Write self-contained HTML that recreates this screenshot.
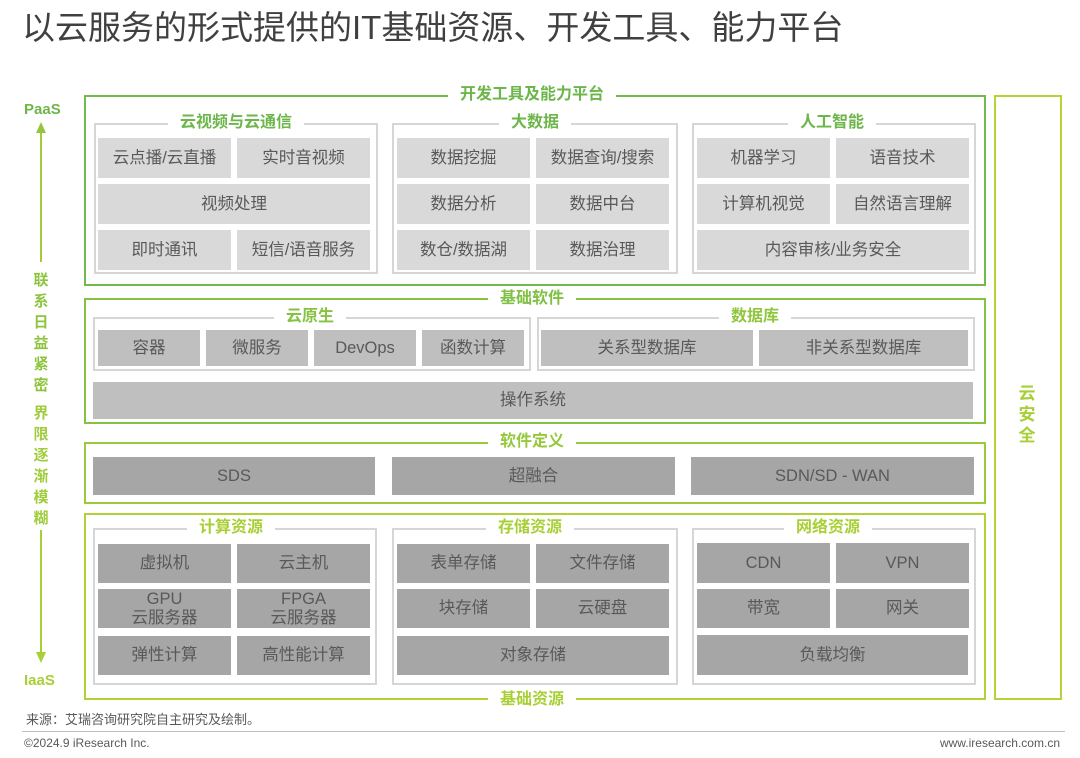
<!DOCTYPE html><html><head><meta charset="utf-8"><style>
*{margin:0;padding:0;box-sizing:border-box}
body{width:1080px;height:758px;background:#fff;position:relative;overflow:hidden;font-family:"Liberation Sans","Noto Sans CJK SC",sans-serif}
div{position:absolute}
.f{border:2px solid #7cc04a}
.s{border:2px solid #d6d6d6}
.b{display:flex;align-items:center;justify-content:center;color:#595959;font-size:16.5px;text-align:center;line-height:19px}
.l{background:#d9d9d9}.m{background:#bfbfbf}.d{background:#a6a6a6}
.t{background:#fff;font-weight:bold;font-size:16px;padding:0 12px;line-height:18px;white-space:nowrap;transform:translateX(-50%)}
.v{font-weight:bold;font-size:15px;line-height:21px;width:20px;text-align:center}
</style></head><body>
<div style="left:22px;top:7px;font-size:33px;color:#404040;line-height:42px;white-space:nowrap">以云服务的形式提供的IT基础资源、开发工具、能力平台</div>

<!-- left axis -->
<div style="left:24px;top:101px;font-weight:bold;color:#6cb64a;font-size:15px">PaaS</div>
<div style="left:40px;top:132px;width:2px;height:130px;background:#a2cc3c"></div>
<div style="left:36px;top:122px;width:0;height:0;border-left:5px solid transparent;border-right:5px solid transparent;border-bottom:11px solid #93c63e"></div>
<div class="v" style="left:31px;top:270px;color:#8cc43e">联<br>系<br>日<br>益<br>紧<br>密</div>
<div class="v" style="left:31px;top:403px;color:#9fcc3a">界<br>限<br>逐<br>渐<br>模<br>糊</div>
<div style="left:40px;top:530px;width:2px;height:124px;background:#a8d036"></div>
<div style="left:36px;top:652px;width:0;height:0;border-left:5px solid transparent;border-right:5px solid transparent;border-top:11px solid #a8d036"></div>
<div style="left:24px;top:672px;font-weight:bold;color:#a8d036;font-size:15px">IaaS</div>

<!-- frame 1 -->
<div class="f" style="left:84px;top:95px;width:902px;height:191px;border-color:#72bb4a"></div>
<div class="t" style="left:532px;top:86px;color:#6cb64a">开发工具及能力平台</div>
<div class="s" style="left:94px;top:123px;width:284px;height:151px"></div>
<div class="t" style="left:236px;top:114px;color:#6cb64a">云视频与云通信</div>
<div class="b l" style="left:98px;top:138px;width:133px;height:40px">云点播/云直播</div>
<div class="b l" style="left:237px;top:138px;width:133px;height:40px">实时音视频</div>
<div class="b l" style="left:98px;top:184px;width:272px;height:40px">视频处理</div>
<div class="b l" style="left:98px;top:230px;width:133px;height:40px">即时通讯</div>
<div class="b l" style="left:237px;top:230px;width:133px;height:40px">短信/语音服务</div>

<div class="s" style="left:392px;top:123px;width:286px;height:151px"></div>
<div class="t" style="left:535px;top:114px;color:#6cb64a">大数据</div>
<div class="b l" style="left:397px;top:138px;width:133px;height:40px">数据挖掘</div>
<div class="b l" style="left:536px;top:138px;width:133px;height:40px">数据查询/搜索</div>
<div class="b l" style="left:397px;top:184px;width:133px;height:40px">数据分析</div>
<div class="b l" style="left:536px;top:184px;width:133px;height:40px">数据中台</div>
<div class="b l" style="left:397px;top:230px;width:133px;height:40px">数仓/数据湖</div>
<div class="b l" style="left:536px;top:230px;width:133px;height:40px">数据治理</div>

<div class="s" style="left:692px;top:123px;width:284px;height:151px"></div>
<div class="t" style="left:832px;top:114px;color:#6cb64a">人工智能</div>
<div class="b l" style="left:697px;top:138px;width:133px;height:40px">机器学习</div>
<div class="b l" style="left:836px;top:138px;width:133px;height:40px">语音技术</div>
<div class="b l" style="left:697px;top:184px;width:133px;height:40px">计算机视觉</div>
<div class="b l" style="left:836px;top:184px;width:133px;height:40px">自然语言理解</div>
<div class="b l" style="left:697px;top:230px;width:272px;height:40px">内容审核/业务安全</div>

<!-- frame 2 -->
<div class="f" style="left:84px;top:298px;width:902px;height:126px;border-color:#86c242"></div>
<div class="t" style="left:532px;top:290px;color:#80c044">基础软件</div>
<div class="s" style="left:93px;top:317px;width:438px;height:54px"></div>
<div class="t" style="left:310px;top:308px;color:#86c242">云原生</div>
<div class="b m" style="left:98px;top:330px;width:102px;height:36px">容器</div>
<div class="b m" style="left:206px;top:330px;width:102px;height:36px">微服务</div>
<div class="b m" style="left:314px;top:330px;width:102px;height:36px">DevOps</div>
<div class="b m" style="left:422px;top:330px;width:102px;height:36px">函数计算</div>
<div class="s" style="left:537px;top:317px;width:438px;height:54px"></div>
<div class="t" style="left:755px;top:308px;color:#90c63e">数据库</div>
<div class="b m" style="left:541px;top:330px;width:212px;height:36px">关系型数据库</div>
<div class="b m" style="left:759px;top:330px;width:209px;height:36px">非关系型数据库</div>
<div class="b m" style="left:93px;top:382px;width:880px;height:37px">操作系统</div>

<!-- frame 3 -->
<div class="f" style="left:84px;top:442px;width:902px;height:62px;border-color:#9ccb3a"></div>
<div class="t" style="left:532px;top:433px;color:#96c83c">软件定义</div>
<div class="b d" style="left:93px;top:457px;width:282px;height:38px">SDS</div>
<div class="b d" style="left:392px;top:457px;width:283px;height:38px">超融合</div>
<div class="b d" style="left:691px;top:457px;width:283px;height:38px">SDN/SD - WAN</div>

<!-- frame 4 -->
<div class="f" style="left:84px;top:513px;width:902px;height:187px;border-color:#b0d236"></div>
<div class="t" style="left:532px;top:691px;color:#a8d036">基础资源</div>
<div class="s" style="left:93px;top:528px;width:284px;height:157px"></div>
<div class="t" style="left:231px;top:519px;color:#a8d036">计算资源</div>
<div class="b d" style="left:98px;top:544px;width:133px;height:39px">虚拟机</div>
<div class="b d" style="left:237px;top:544px;width:133px;height:39px">云主机</div>
<div class="b d" style="left:98px;top:589px;width:133px;height:39px">GPU<br>云服务器</div>
<div class="b d" style="left:237px;top:589px;width:133px;height:39px">FPGA<br>云服务器</div>
<div class="b d" style="left:98px;top:636px;width:133px;height:39px">弹性计算</div>
<div class="b d" style="left:237px;top:636px;width:133px;height:39px">高性能计算</div>

<div class="s" style="left:392px;top:528px;width:286px;height:157px"></div>
<div class="t" style="left:530px;top:519px;color:#a8d036">存储资源</div>
<div class="b d" style="left:397px;top:544px;width:133px;height:39px">表单存储</div>
<div class="b d" style="left:536px;top:544px;width:133px;height:39px">文件存储</div>
<div class="b d" style="left:397px;top:589px;width:133px;height:39px">块存储</div>
<div class="b d" style="left:536px;top:589px;width:133px;height:39px">云硬盘</div>
<div class="b d" style="left:397px;top:636px;width:272px;height:39px">对象存储</div>

<div class="s" style="left:692px;top:528px;width:284px;height:157px"></div>
<div class="t" style="left:828px;top:519px;color:#a8d036">网络资源</div>
<div class="b d" style="left:697px;top:543px;width:133px;height:40px">CDN</div>
<div class="b d" style="left:836px;top:543px;width:133px;height:40px">VPN</div>
<div class="b d" style="left:697px;top:589px;width:133px;height:39px">带宽</div>
<div class="b d" style="left:836px;top:589px;width:133px;height:39px">网关</div>
<div class="b d" style="left:697px;top:635px;width:271px;height:40px">负载均衡</div>

<!-- right -->
<div class="f" style="left:994px;top:95px;width:68px;height:605px;border-color:#b4d436"></div>
<div class="v" style="left:1017px;top:383px;color:#a8d036;font-size:17px;line-height:21px">云<br>安<br>全</div>

<!-- footer -->
<div style="left:26px;top:709px;font-size:13px;color:#595959">来源：艾瑞咨询研究院自主研究及绘制。</div>
<div style="left:22px;top:731px;width:1043px;height:1px;background:#bfbfbf"></div>
<div style="left:24px;top:736px;font-size:12px;color:#595959">©2024.9 iResearch Inc.</div>
<div style="right:20px;top:736px;font-size:12px;color:#595959">www.iresearch.com.cn</div>
</body></html>
